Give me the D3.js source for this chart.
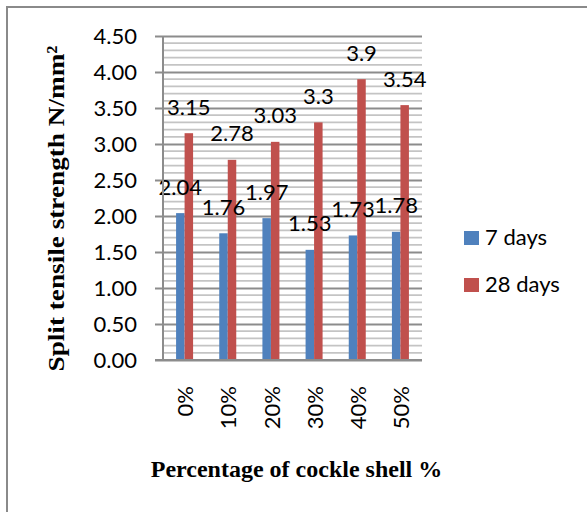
<!DOCTYPE html>
<html>
<head>
<meta charset="utf-8">
<script src="https://cdn.jsdelivr.net/npm/d3@7"></script>
<style>
  html, body { margin: 0; padding: 0; background: #fff; }
  svg { display: block; }
</style>
</head>
<body>
<svg id="chart" width="587" height="512"></svg>
<script>
// Split tensile strength by cockle shell replacement
const categories = ["0%", "10%", "20%", "30%", "40%", "50%"];
const seriesNames = ["7 days", "28 days"];
const days7 = [2.04, 1.76, 1.97, 1.53, 1.73, 1.78];
const days28 = [3.15, 2.78, 3.03, 3.3, 3.9, 3.54];
const yTicks = [0, 0.5, 1, 1.5, 2, 2.5, 3, 3.5, 4, 4.5];
const yTitle = "Split tensile strength N/mm²";
const xTitle = "Percentage of cockle shell %";

const colors = ["#4f81bd", "#c0504d"];
const seriesValues = [days7, days28];

const svg = d3.select("#chart");
const plot = { left: 163, right: 422, top: 36, bottom: 360 };
const labelFont = "Lato, 'Open Sans', sans-serif";
const titleFont = "'Liberation Serif', 'DejaVu Serif', serif";

// outer frame
svg.append("rect")
  .attr("x", 7).attr("y", 7)
  .attr("width", 600).attr("height", 520)
  .attr("fill", "#fff")
  .attr("stroke", "#8a8a8a")
  .attr("stroke-width", 2);

const y = d3.scaleLinear().domain([0, 4.5]).range([plot.bottom, plot.top]);
const x0 = d3.scaleBand().domain(categories).range([plot.left, plot.right]).padding(0);
const groupWidth = 17;
const x1 = d3.scaleBand().domain(seriesNames).range([0, groupWidth]).padding(0);
const groupOffset = (x0.bandwidth() - groupWidth) / 2;

// minor gridlines every 0.1
const minorTicks = d3.range(1, 45).filter(i => i % 5 !== 0).map(i => i / 10);
svg.append("g")
  .selectAll("line")
  .data(minorTicks)
  .join("line")
  .attr("x1", plot.left).attr("x2", plot.right)
  .attr("y1", d => y(d)).attr("y2", d => y(d))
  .attr("stroke", "#c4c4c4")
  .attr("stroke-width", 1.8);

// major gridlines with outside tick marks
const yAxis = d3.axisLeft(y)
  .tickValues(yTicks)
  .tickSize(-(plot.right - plot.left))
  .tickFormat(d3.format(".2f"))
  .tickPadding(26);
const yAxisG = svg.append("g")
  .attr("transform", `translate(${plot.left},0)`)
  .call(yAxis);
yAxisG.select(".domain").remove();
yAxisG.selectAll(".tick line")
  .attr("x1", -8)
  .attr("stroke", "#8c8c8c")
  .attr("stroke-width", 2);
yAxisG.selectAll(".tick text")
  .attr("font-family", labelFont)
  .attr("font-size", 22)
  .attr("fill", "#000");

// bars
const groups = svg.append("g")
  .selectAll("g")
  .data(categories)
  .join("g")
  .attr("transform", d => `translate(${x0(d) + groupOffset},0)`);

groups.selectAll("rect")
  .data((c, i) => seriesNames.map((s, k) => ({ s, k, v: seriesValues[k][i] })))
  .join("rect")
  .attr("x", d => x1(d.s))
  .attr("width", x1.bandwidth())
  .attr("y", d => y(d.v))
  .attr("height", d => y(0) - y(d.v))
  .attr("fill", d => colors[d.k]);

// axis lines
svg.append("line")
  .attr("x1", plot.left).attr("x2", plot.left)
  .attr("y1", plot.top).attr("y2", plot.bottom)
  .attr("stroke", "#8c8c8c").attr("stroke-width", 2);
svg.append("line")
  .attr("x1", plot.left - 8).attr("x2", plot.right)
  .attr("y1", plot.bottom).attr("y2", plot.bottom)
  .attr("stroke", "#8c8c8c").attr("stroke-width", 2);

// value labels above each bar
groups.selectAll("text.value")
  .data((c, i) => seriesNames.map((s, k) => ({ s, k, v: seriesValues[k][i] })))
  .join("text")
  .attr("class", "value")
  .attr("x", d => x1(d.s) + x1.bandwidth() / 2)
  .attr("y", d => y(d.v) - 18.5)
  .attr("text-anchor", "middle")
  .attr("font-family", labelFont)
  .attr("font-size", 22)
  .attr("fill", "#000")
  .text(d => String(d.v));

// rotated category labels
const xAxis = d3.axisBottom(x0).tickSize(0).tickPadding(0);
const xAxisG = svg.append("g")
  .attr("transform", `translate(0,${plot.bottom})`)
  .call(xAxis);
xAxisG.select(".domain").remove();
xAxisG.selectAll(".tick text")
  .attr("transform", "translate(1,26) rotate(-90)")
  .attr("x", 0).attr("y", 0)
  .attr("dy", "0.35em")
  .attr("text-anchor", "end")
  .attr("font-family", labelFont)
  .attr("font-size", 22)
  .attr("fill", "#000");

// legend
const legend = svg.append("g")
  .selectAll("g")
  .data(seriesNames)
  .join("g")
  .attr("transform", (d, i) => `translate(464,${231 + i * 47})`);
legend.append("rect")
  .attr("width", 15).attr("height", 14)
  .attr("fill", (d, i) => colors[i]);
legend.append("text")
  .attr("x", 21).attr("y", 14)
  .attr("font-family", labelFont)
  .attr("font-size", 22)
  .attr("fill", "#000")
  .text(d => d);

// axis titles
svg.append("text")
  .attr("transform", "translate(56,208.5) rotate(-90)")
  .attr("dy", "0.33em")
  .attr("text-anchor", "middle")
  .attr("font-family", titleFont)
  .attr("font-weight", "bold")
  .attr("font-size", 24)
  .attr("textLength", 326)
  .attr("lengthAdjust", "spacingAndGlyphs")
  .attr("fill", "#000")
  .text(yTitle);

svg.append("text")
  .attr("x", 296.5).attr("y", 477)
  .attr("text-anchor", "middle")
  .attr("font-family", titleFont)
  .attr("font-weight", "bold")
  .attr("font-size", 24)
  .attr("fill", "#000")
  .text(xTitle);
</script>
</body>
</html>
